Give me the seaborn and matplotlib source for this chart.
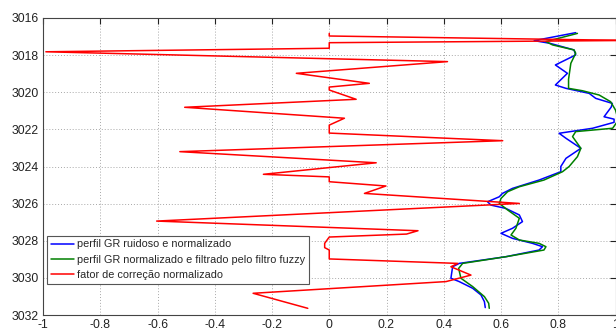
import matplotlib
matplotlib.use("Agg")
import matplotlib.pyplot as plt
import seaborn as sns
import pandas as pd
from matplotlib.lines import Line2D

# ---- data ----
red_depth = [3016.83, 3016.97, 3017.21, 3017.33, 3017.63, 3017.82, 3018.35, 3018.98,
             3019.52, 3019.72, 3019.88, 3020.38, 3020.81, 3021.40, 3021.77, 3022.20,
             3022.61, 3023.20, 3023.80, 3024.42, 3024.56, 3024.82, 3025.05, 3025.45,
             3025.99, 3026.94, 3027.46, 3027.64, 3027.80, 3028.14, 3028.37, 3028.50,
             3028.98, 3029.22, 3029.40, 3029.85, 3030.20, 3030.83, 3031.64]
red_val = [0.0, 0.0, 1.05, 0.0, 0.0, -0.99, 0.413, -0.115,
           0.14, 0.0, 0.0, 0.094, -0.505, 0.053, 0.0, 0.0,
           0.606, -0.522, 0.164, -0.23, 0.0, 0.0, 0.198, 0.123,
           0.664, -0.603, 0.31, 0.27, 0.0, -0.016, -0.016, 0.0,
           0.0, 0.449, 0.425, 0.495, 0.408, -0.266, -0.075]

blue_depth = [3016.79, 3017.22, 3017.36, 3017.72, 3017.99, 3018.53, 3018.98, 3019.61,
              3019.79, 3020.06, 3020.33, 3020.60, 3020.80, 3021.32, 3021.45, 3021.62,
              3021.94, 3022.21, 3022.48, 3023.02, 3023.56, 3024.00, 3024.28, 3024.73,
              3025.18, 3025.45, 3025.63, 3025.90, 3026.08, 3026.26, 3026.61, 3026.97,
              3027.33, 3027.60, 3027.87, 3028.14, 3028.32, 3028.50, 3028.86, 3029.22,
              3029.40, 3030.02, 3030.20, 3030.56, 3030.92, 3031.28, 3031.60]
blue_val = [0.861, 0.716, 0.770, 0.855, 0.861, 0.790, 0.832, 0.790,
            0.827, 0.908, 0.931, 0.989, 0.985, 0.960, 0.995, 0.995,
            0.920, 0.803, 0.827, 0.879, 0.827, 0.809, 0.809, 0.733,
            0.640, 0.605, 0.594, 0.553, 0.565, 0.617, 0.664, 0.675,
            0.640, 0.600, 0.640, 0.710, 0.745, 0.733, 0.617, 0.454,
            0.431, 0.425, 0.454, 0.501, 0.530, 0.542, 0.545]

green_depth = [3016.83, 3017.27, 3017.45, 3017.72, 3017.90, 3018.44, 3019.30, 3019.79,
               3019.92, 3020.15, 3020.51, 3020.96, 3021.50, 3021.94, 3022.12, 3022.39,
               3023.02, 3023.47, 3024.00, 3024.28, 3024.73, 3025.09, 3025.36, 3025.72,
               3025.99, 3026.34, 3026.79, 3027.33, 3027.69, 3027.96, 3028.14, 3028.32,
               3028.50, 3028.86, 3029.22, 3029.49, 3030.02, 3030.47, 3031.01, 3031.37,
               3031.64]
green_val = [0.867, 0.757, 0.780, 0.855, 0.861, 0.844, 0.836, 0.836,
             0.885, 0.943, 0.983, 1.000, 1.010, 0.990, 0.861, 0.850,
             0.879, 0.867, 0.838, 0.815, 0.750, 0.664, 0.623, 0.600,
             0.594, 0.623, 0.664, 0.652, 0.635, 0.664, 0.733, 0.757,
             0.750, 0.617, 0.466, 0.452, 0.460, 0.501, 0.542, 0.557,
             0.559]

labels = ["perfil GR ruidoso e normalizado",
          "perfil GR normalizado e filtrado pelo filtro fuzzy",
          "fator de correção normalizado"]
colors = ["#0000ff", "#008000", "#ff0000"]

x_ticks = [-1, -0.8, -0.6, -0.4, -0.2, 0, 0.2, 0.4, 0.6, 0.8, 1]
x_ticklabels = ["-1", "-0.8", "-0.6", "-0.4", "-0.2", "0", "0.2", "0.4", "0.6", "0.8", "1"]
y_ticks = [3016, 3018, 3020, 3022, 3024, 3026, 3028, 3030, 3032]

# ---- figure ----
sns.set_style("white")
plt.rcParams["font.family"] = ["Liberation Sans", "DejaVu Sans"]

fig = plt.figure(figsize=(6.16, 3.31), dpi=100)
ax = fig.add_axes([43 / 616, 16 / 331, 572.5 / 616, 297 / 331])

series = [(blue_val, blue_depth), (green_val, green_depth), (red_val, red_depth)]
for (vals, deps), lab, col in zip(series, labels, colors):
    df = pd.DataFrame({"valor": vals, "prof": deps})
    sns.lineplot(data=df, x="valor", y="prof", sort=False, estimator=None,
                 color=col, linewidth=1.1, ax=ax, legend=False)

ax.set_xlim(-1, 1)
ax.set_ylim(3032, 3016)
ax.set_xticks(x_ticks)
ax.set_xticklabels(x_ticklabels)
ax.set_yticks(y_ticks)
ax.set_xlabel("")
ax.set_ylabel("")
ax.grid(True, linestyle=(0, (1, 2)), color="#a8a8a8", linewidth=0.7)
ax.tick_params(axis="both", which="both", direction="in", length=4, width=0.8,
               top=True, right=True, labelsize=8.8, colors="#222222", pad=3)
for s in ax.spines.values():
    s.set_color("#444444")
    s.set_linewidth(0.8)
    s.set_visible(True)

handles = [Line2D([], [], color=c, linewidth=1.1) for c in colors]
leg = ax.legend(handles, labels, loc="lower left", bbox_to_anchor=(0.007, 0.104),
                borderaxespad=0, fontsize=7.85, frameon=True, fancybox=False,
                framealpha=1, edgecolor="#555555", handlelength=2.1,
                handletextpad=0.3, labelspacing=0.5, borderpad=0.35)
leg.get_frame().set_linewidth(0.8)

fig.savefig("out.png", dpi=100)
